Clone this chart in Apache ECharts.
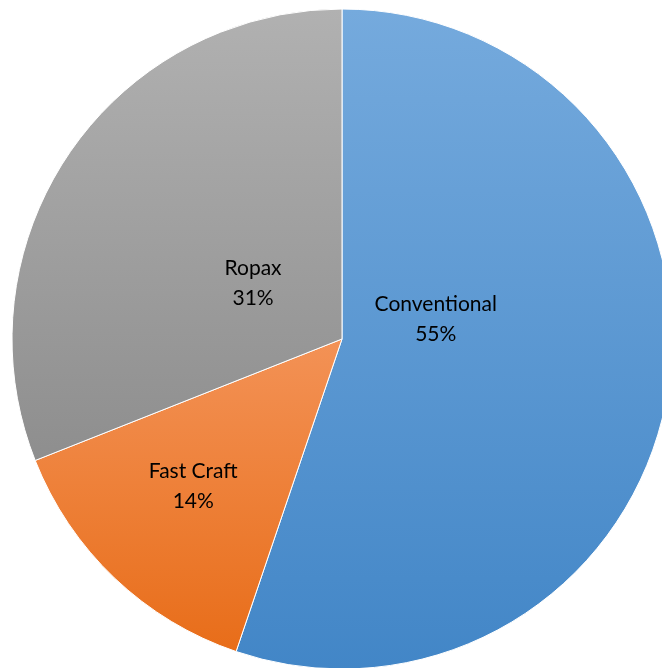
<!DOCTYPE html>
<html>
<head>
<meta charset="utf-8">
<script src="https://cdn.jsdelivr.net/npm/echarts@6/dist/echarts.min.js"></script>
<style>html,body{margin:0;padding:0;background:#fff}#c{width:662px;height:668px}</style>
</head>
<body>
<div id="c"></div>
<script>
var categories = ['Conventional', 'Fast Craft', 'Ropax'];
var values = [55.2, 13.8, 31.0];
var topColors = ['#75aadd', '#f39256', '#b1b1b1'];
var bottomColors = ['#4286c7', '#e86d19', '#8e8e8e'];
var labelOffsets = [[-72, -47], [-33, 25], [50, 39]];

var chart = echarts.init(document.getElementById('c'));
chart.setOption({
  animation: false,
  series: [{
    type: 'pie',
    center: [342, 339],
    radius: [0, 330],
    startAngle: 90,
    clockwise: true,
    avoidLabelOverlap: false,
    itemStyle: { borderColor: '#ffffff', borderWidth: 1 },
    label: {
      position: 'inside',
      formatter: function (p) { return p.name + '\n' + Math.round(p.percent) + '%'; },
      fontFamily: 'Lato',
      fontSize: 21,
      lineHeight: 30,
      color: '#000000',
      align: 'center'
    },
    labelLine: { show: false },
    labelLayout: function (p) {
      var o = labelOffsets[p.dataIndex];
      return { dx: o[0], dy: o[1] };
    },
    data: categories.map(function (c, i) {
      return {
        name: c,
        value: values[i],
        itemStyle: {
          color: new echarts.graphic.LinearGradient(0, 0, 0, 1, [
            { offset: 0, color: topColors[i] },
            { offset: 1, color: bottomColors[i] }
          ])
        }
      };
    })
  }]
});
</script>
</body>
</html>
